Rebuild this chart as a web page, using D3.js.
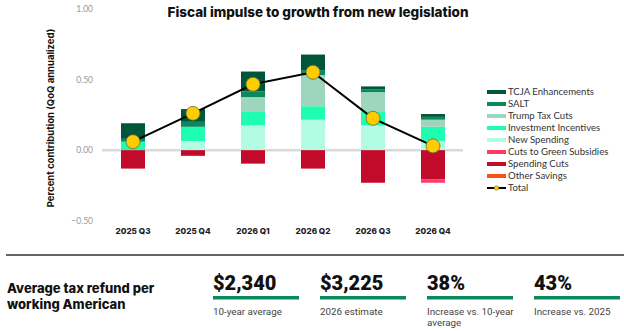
<!DOCTYPE html>
<html>
<head>
<meta charset="utf-8">
<script src="https://cdn.jsdelivr.net/npm/d3@7"></script>
<style>
  html, body { margin: 0; padding: 0; background: #fff; }
  svg { display: block; }
</style>
</head>
<body>
<div id="chart"></div>
<script>
// --- data ---
const quarters = ["2025 Q3", "2025 Q4", "2026 Q1", "2026 Q2", "2026 Q3", "2026 Q4"];
const tcja          = [0.11, 0.09, 0.14, 0.11, 0.02, 0.02];
const salt          = [0.02, 0.035, 0.04, 0.035, 0.02, 0.02];
const trumpTaxCuts  = [0, 0, 0.10, 0.22, 0.135, 0.05];
const investment    = [0.06, 0.10, 0.10, 0.095, 0.10, 0.10];
const newSpending   = [0, 0.065, 0.175, 0.215, 0.175, 0.065];
const greenCuts     = [0, 0, 0, 0, 0, -0.025];
const spendingCuts  = [-0.13, -0.04, -0.095, -0.13, -0.23, -0.205];
const otherSavings  = [0, 0, 0, 0, 0, 0];
const total         = [0.06, 0.26, 0.465, 0.55, 0.225, 0.03];

const yTicks = [-0.5, 0, 0.5, 1.0];

const legendNames = ["TCJA Enhancements", "SALT", "Trump Tax Cuts", "Investment Incentives",
  "New Spending", "Cuts to Green Subsidies", "Spending Cuts", "Other Savings", "Total"];

const stats = ["$2,340", "$3,225", "38%", "43%"];
const statLabels = [["10-year average"], ["2026 estimate"], ["Increase vs. 10-year", "average"], ["Increase vs. 2025"]];

// --- series table for the stack ---
const series = [
  { key: "New Spending", values: newSpending, color: "#b2fce4" },
  { key: "Investment Incentives", values: investment, color: "#1ffdb0" },
  { key: "Trump Tax Cuts", values: trumpTaxCuts, color: "#9dd6bd" },
  { key: "SALT", values: salt, color: "#0a8a5c" },
  { key: "TCJA Enhancements", values: tcja, color: "#00563b" },
  { key: "Spending Cuts", values: spendingCuts, color: "#c20a2a" },
  { key: "Cuts to Green Subsidies", values: greenCuts, color: "#ff3a6a" },
  { key: "Other Savings", values: otherSavings, color: "#ff4e12" }
];
const colorOf = Object.fromEntries(series.map(s => [s.key, s.color]));

const rows = quarters.map((q, i) => {
  const r = { quarter: q, total: total[i] };
  series.forEach(s => r[s.key] = s.values[i]);
  return r;
});

const W = 624, H = 331;
const svg = d3.select("#chart").append("svg")
  .attr("width", W).attr("height", H);

const x = d3.scaleBand().domain(quarters).range([103, 463])
  .paddingInner(0.6).paddingOuter(0.3);
const y = d3.scaleLinear().domain([-0.5, 1.0]).range([221, 8.5]);

// title
svg.append("text")
  .attr("x", 318).attr("y", 17)
  .attr("text-anchor", "middle")
  .attr("font-family", "Inter, 'Liberation Sans', sans-serif")
  .attr("font-weight", 800)
  .attr("font-size", "13.5px")
  .attr("fill", "#111")
  .text("Fiscal impulse to growth from new legislation");

// y axis labels
const yAxis = svg.append("g").attr("transform", "translate(95,0)")
  .call(d3.axisLeft(y).tickValues(yTicks).tickFormat(d3.format(".2f")).tickSize(0).tickPadding(2));
yAxis.select(".domain").remove();
yAxis.selectAll("text")
  .attr("font-family", "Lato, sans-serif")
  .attr("font-size", "8.5px")
  .attr("fill", "#999");

svg.append("text")
  .attr("transform", "translate(54,118) rotate(-90)")
  .attr("text-anchor", "middle")
  .attr("font-family", "Inter, 'Liberation Sans', sans-serif")
  .attr("font-weight", 700)
  .attr("font-size", "9.5px")
  .attr("fill", "#111")
  .text("Percent contribution  (QoQ annualized)");

// zero line
svg.append("line")
  .attr("x1", 102).attr("x2", 463)
  .attr("y1", y(0)).attr("y2", y(0))
  .attr("stroke", "#d9d9d9").attr("stroke-width", 2.5);

// stacked bars
const stacked = d3.stack()
  .keys(series.map(s => s.key))
  .offset(d3.stackOffsetDiverging)(rows);

svg.append("g")
  .selectAll("g")
  .data(stacked)
  .join("g")
  .attr("fill", d => colorOf[d.key])
  .selectAll("rect")
  .data(d => d)
  .join("rect")
  .attr("x", d => x(d.data.quarter))
  .attr("width", x.bandwidth())
  .attr("y", d => y(Math.max(d[0], d[1])))
  .attr("height", d => Math.abs(y(d[0]) - y(d[1])));

// x labels
const xAxis = svg.append("g").attr("transform", "translate(0,228)")
  .call(d3.axisBottom(x).tickSize(0).tickPadding(0));
xAxis.select(".domain").remove();
xAxis.selectAll("text")
  .attr("font-family", "Inter, 'Liberation Sans', sans-serif")
  .attr("font-weight", 800)
  .attr("font-size", "8.2px")
  .attr("fill", "#222");

// total line + dots
const line = d3.line()
  .x((d, i) => x(quarters[i]) + x.bandwidth() / 2)
  .y(d => y(d));
svg.append("path")
  .datum(total)
  .attr("fill", "none")
  .attr("stroke", "#000")
  .attr("stroke-width", 2)
  .attr("d", line);
svg.append("g")
  .selectAll("circle")
  .data(total)
  .join("circle")
  .attr("cx", (d, i) => x(quarters[i]) + x.bandwidth() / 2)
  .attr("cy", d => y(d))
  .attr("r", 7)
  .attr("fill", "#ffcc00")
  .attr("stroke", "#5f6e3c")
  .attr("stroke-width", 0.8);

// legend
const legend = svg.append("g").attr("transform", "translate(487,92)");
legendNames.forEach((name, i) => {
  const g = legend.append("g").attr("transform", `translate(0,${i * 12})`);
  if (name === "Total") {
    g.append("line").attr("x1", 0).attr("x2", 19).attr("y1", 0).attr("y2", 0)
      .attr("stroke", "#000").attr("stroke-width", 2);
    g.append("circle").attr("cx", 9.5).attr("cy", 0).attr("r", 2.3)
      .attr("fill", "#ffcc00").attr("stroke", "#5f6e3c").attr("stroke-width", 0.5);
  } else {
    g.append("rect").attr("x", 0).attr("y", -2).attr("width", 19).attr("height", 4)
      .attr("fill", colorOf[name]);
  }
  g.append("text")
    .attr("x", 21).attr("y", 0).attr("dy", "0.35em")
    .attr("font-family", "Lato, sans-serif")
    .attr("font-size", "9.6px")
    .attr("fill", "#333")
    .text(name);
});

// divider
svg.append("line")
  .attr("x1", 6).attr("x2", 624).attr("y1", 255).attr("y2", 255)
  .attr("stroke", "#333").attr("stroke-width", 1.6);

// bottom panel
const heading = svg.append("text")
  .attr("font-family", "Inter, 'Liberation Sans', sans-serif")
  .attr("font-weight", 800)
  .attr("font-size", "13px")
  .attr("fill", "#111");
heading.append("tspan").attr("x", 7).attr("y", 293).text("Average tax refund per");
heading.append("tspan").attr("x", 7).attr("y", 309).text("working American");

const statX = d3.scalePoint().domain(stats).range([213, 534]);
stats.forEach((s, i) => {
  const x0 = statX(s);
  svg.append("text")
    .attr("x", x0).attr("y", 290)
    .attr("font-family", "Roboto, sans-serif")
    .attr("font-weight", 900)
    .attr("font-size", "20px")
    .attr("fill", "#111")
    .text(s);
  svg.append("rect")
    .attr("x", x0).attr("y", 296).attr("width", 86).attr("height", 3.5)
    .attr("fill", "#0a8a5c");
  statLabels[i].forEach((t, j) => {
    svg.append("text")
      .attr("x", x0).attr("y", 315 + j * 11)
      .attr("font-family", "Roboto, sans-serif")
      .attr("font-size", "9.8px")
      .attr("fill", "#444")
      .text(t);
  });
});
</script>
</body>
</html>
